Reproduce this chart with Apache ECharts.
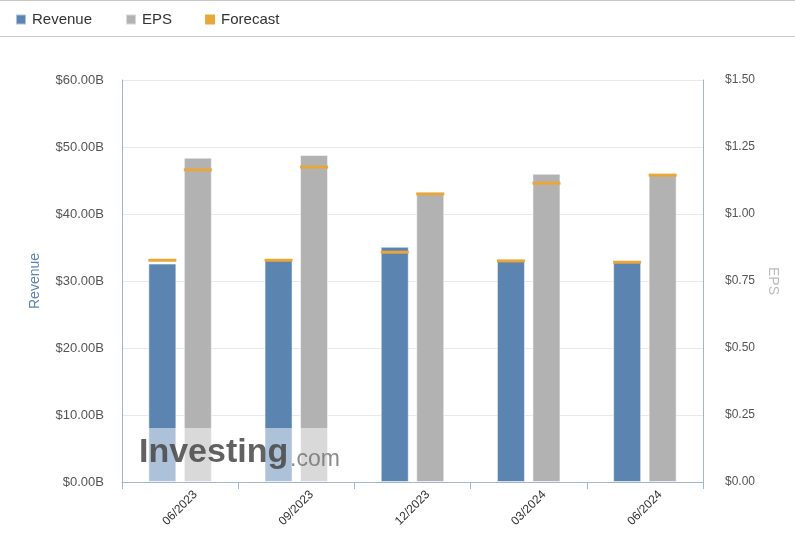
<!DOCTYPE html>
<html>
<head>
<meta charset="utf-8">
<script src="https://cdn.jsdelivr.net/npm/echarts@6/dist/echarts.min.js"></script>
<style>
html,body{margin:0;padding:0;background:#fff;}
#chart{width:795px;height:550px;}
</style>
</head>
<body>
<div id="chart"></div>
<script>
const categories = ['06/2023', '09/2023', '12/2023', '03/2024', '06/2024'];
const revenue = [32.6, 33.3, 35.1, 33.1, 33.0];          // $B
const revenueForecast = [33.1, 33.1, 34.3, 33.0, 32.8];  // $B
const eps = [1.21, 1.22, 1.08, 1.15, 1.15];
const epsForecast = [1.165, 1.175, 1.075, 1.115, 1.145];

const C_REV = '#5b84b1';
const C_EPS = '#b2b2b2';
const C_FC = '#e9a73a';
const FONT = 'Liberation Sans, Arial, sans-serif';
const BAR_W = 28;
const BAR_GAP = 7.5;

function forecastRender(side) {
  return function (params, api) {
    const i = api.value(0);
    const v = api.value(1);
    const p = api.coord([i, v]);
    const off = side * (BAR_W + BAR_GAP) / 2;
    return {
      type: 'rect',
      shape: { x: p[0] + off - BAR_W / 2, y: p[1] - 1.5, width: BAR_W, height: 3 },
      style: { fill: C_FC }
    };
  };
}

const chart = echarts.init(document.getElementById('chart'), null, { renderer: 'canvas' });
chart.setOption({
  animation: false,
  backgroundColor: '#fff',
  textStyle: { fontFamily: FONT },
  legend: {
    data: ['Revenue', 'EPS', 'Forecast'],
    left: 15, top: 12, padding: 0,
    itemWidth: 10, itemHeight: 10, itemGap: 33,
    icon: 'rect',
    textStyle: { fontSize: 15, color: '#333', fontFamily: FONT, padding: [0, 0, 0, 1] }
  },
  grid: { left: 122, right: 92, top: 80, bottom: 68, containLabel: false },
  xAxis: {
    type: 'category',
    data: categories,
    axisLine: { lineStyle: { color: '#9fb6d2', width: 1 } },
    axisTick: { show: true, length: 7, lineStyle: { color: '#9fb6d2' } },
    axisLabel: { rotate: 45, color: '#333', fontSize: 12, fontFamily: FONT, align: 'center', verticalAlign: 'middle', margin: 26 }
  },
  yAxis: [
    {
      type: 'value', min: 0, max: 60, interval: 10, position: 'left',
      name: 'Revenue', nameLocation: 'middle', nameGap: 80, nameRotate: 90,
      nameTextStyle: { color: C_REV, fontSize: 14, fontFamily: FONT },
      axisLine: { show: true, lineStyle: { color: '#9fb6d2' } },
      axisTick: { show: false },
      axisLabel: { color: '#555', fontSize: 13, margin: 18, fontFamily: FONT, formatter: v => '$' + v.toFixed(2) + 'B' },
      splitLine: { lineStyle: { color: '#e6e9ef', width: 1 } }
    },
    {
      type: 'value', min: 0, max: 1.5, interval: 0.25, position: 'right',
      name: 'EPS', nameLocation: 'middle', nameGap: 62, nameRotate: -90,
      nameTextStyle: { color: '#bbb', fontSize: 14, fontFamily: FONT },
      axisLine: { show: true, lineStyle: { color: '#9fb6d2' } },
      axisTick: { show: false },
      axisLabel: { color: '#555', fontSize: 12, margin: 22, fontFamily: FONT, formatter: v => '$' + v.toFixed(2) },
      splitLine: { show: false }
    }
  ],
  series: [
    {
      name: 'Revenue', type: 'bar', yAxisIndex: 0, data: revenue,
      barWidth: BAR_W, barGap: (BAR_GAP / BAR_W * 100) + '%',
      itemStyle: { color: C_REV, borderColor: 'rgba(255,255,255,0.5)', borderWidth: 1 }
    },
    {
      name: 'EPS', type: 'bar', yAxisIndex: 1, data: eps,
      barWidth: BAR_W, barGap: (BAR_GAP / BAR_W * 100) + '%',
      itemStyle: { color: C_EPS, borderColor: 'rgba(255,255,255,0.5)', borderWidth: 1 }
    },
    {
      name: 'Forecast', type: 'custom', yAxisIndex: 0, z: 3,
      itemStyle: { color: C_FC },
      encode: { x: 0, y: 1 },
      data: revenueForecast.map((v, i) => [i, v]),
      renderItem: forecastRender(-1)
    },
    {
      name: 'Forecast', type: 'custom', yAxisIndex: 1, z: 3,
      itemStyle: { color: C_FC },
      encode: { x: 0, y: 1 },
      data: epsForecast.map((v, i) => [i, v]),
      renderItem: forecastRender(1)
    }
  ],
  graphic: [
    { type: 'line', shape: { x1: 0, y1: 0.5, x2: 795, y2: 0.5 }, style: { stroke: '#c8c8c8', lineWidth: 1 }, z: 10 },
    { type: 'line', shape: { x1: 0, y1: 36.5, x2: 795, y2: 36.5 }, style: { stroke: '#c8c8c8', lineWidth: 1 }, z: 10 },
    { type: 'rect', shape: { x: 140, y: 428, width: 195, height: 54 }, style: { fill: 'rgba(255,255,255,0.5)' }, z: 10 },
    { type: 'text', left: 139, top: 436, z: 11,
      style: { text: 'Investing', fill: 'rgba(70,70,70,0.85)', font: 'bold 34px ' + FONT } },
    { type: 'text', left: 290, top: 448, z: 11,
      style: { text: '.com', fill: 'rgba(110,110,110,0.8)', font: '23px ' + FONT } }
  ]
});
</script>
</body>
</html>
